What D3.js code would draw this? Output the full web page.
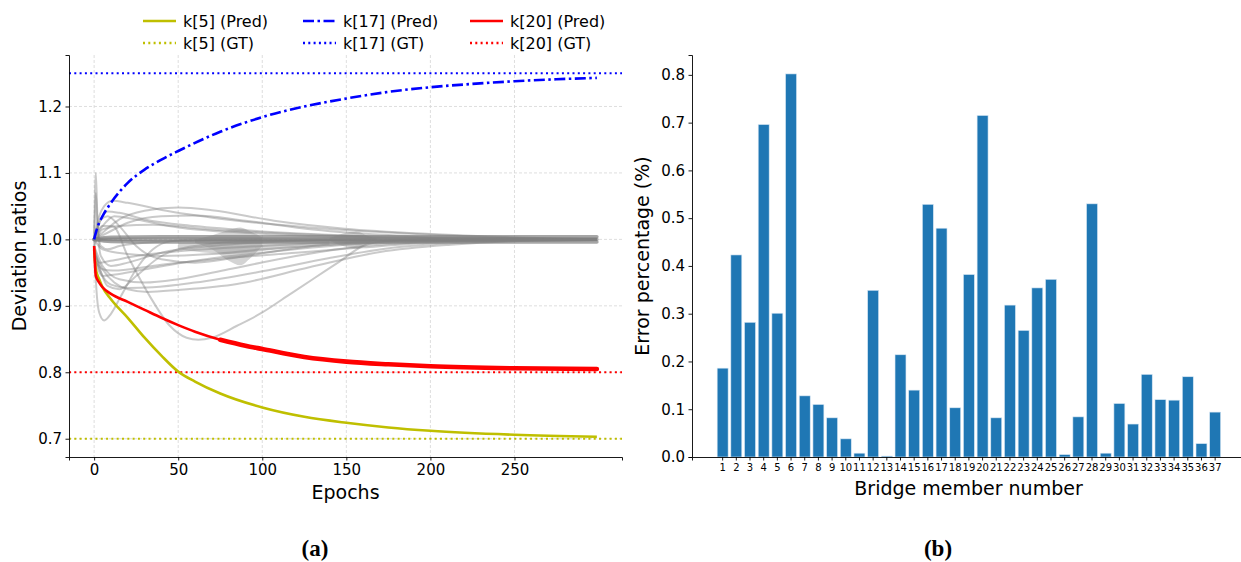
<!DOCTYPE html>
<html><head><meta charset="utf-8">
<script src="https://cdn.jsdelivr.net/npm/d3@7"></script>
<style>
body{margin:0;background:#fff}
text{font-family:"DejaVu Sans",sans-serif;fill:#000}
</style>
</head><body>
<svg id="c" width="1241" height="562"></svg>
<script>
// ---------------- DATA ----------------
// (a) deviation ratios vs epochs
const leftXTicks = [0, 50, 100, 150, 200, 250];
const leftYTicks = [0.7, 0.8, 0.9, 1.0, 1.1, 1.2];
const k5Pred = [[0,0.985],[1,0.955],[3,0.94],[5,0.928],[10,0.91],[20,0.882],[30,0.852],[40,0.825],[50,0.801],[60,0.786],[75,0.768],[100,0.747],[125,0.733],[150,0.724],[175,0.717],[200,0.712],[250,0.706],[299,0.703]];
const k17Pred = [[0,1.0],[1,1.01],[3,1.025],[5,1.035],[10,1.055],[20,1.085],[30,1.105],[40,1.12],[50,1.133],[75,1.162],[100,1.184],[125,1.2],[150,1.212],[175,1.222],[200,1.229],[225,1.234],[250,1.238],[275,1.241],[299,1.243]];
const k20Pred = [[0,0.99],[1,0.945],[3,0.935],[5,0.928],[10,0.918],[20,0.906],[30,0.894],[40,0.882],[50,0.871],[60,0.861],[75,0.849],[90,0.84],[100,0.835],[125,0.823],[150,0.816],[175,0.812],[200,0.809],[250,0.806],[299,0.805]];
const k5GT = 0.7, k17GT = 1.25, k20GT = 0.8;
const grayCurves = [
  [[0,1.0],[1,1.10],[2,1.03],[4,0.99],[8,0.985],[15,0.99],[30,0.995],[60,0.998],[100,1.0],[299,1.0]],
  [[0,1.0],[1,1.07],[2,1.02],[4,0.975],[10,0.96],[20,0.965],[40,0.98],[70,0.99],[110,0.997],[160,1.0],[299,1.0]],
  [[0,1.0],[1,0.94],[3,0.89],[6,0.878],[10,0.888],[16,0.915],[25,0.955],[35,0.985],[45,0.997],[60,1.0],[299,1.0]],
  [[0,1.0],[5,1.02],[11,1.02],[20,0.975],[33,0.915],[45,0.87],[55,0.852],[62,0.849],[70,0.852],[85,0.87],[100,0.89],[115,0.915],[130,0.94],[145,0.965],[160,0.99],[175,0.998],[200,1.0],[299,1.0]],
  [[0,1.0],[3,1.035],[6,1.05],[11,1.058],[20,1.055],[43,1.043],[85,1.028],[128,1.018],[170,1.011],[230,1.004],[299,1.001]],
  [[0,1.0],[5,1.01],[15,1.03],[30,1.043],[50,1.048],[70,1.044],[107,1.028],[149,1.016],[200,1.008],[250,1.003],[299,1.001]],
  [[0,1.0],[4,1.03],[8,1.042],[15,1.04],[30,1.03],[60,1.02],[100,1.012],[150,1.006],[200,1.003],[299,1.0]],
  [[0,1.0],[5,1.02],[12,1.035],[25,1.03],[50,1.018],[90,1.01],[140,1.004],[200,1.001],[299,1.0]],
  [[0,1.0],[8,1.01],[20,1.025],[40,1.035],[60,1.036],[90,1.028],[130,1.015],[180,1.006],[240,1.002],[299,1.0]],
  [[0,0.99],[5,1.015],[15,1.02],[35,1.022],[70,1.015],[120,1.008],[180,1.003],[299,1.0]],
  [[0,0.98],[5,0.955],[12,0.935],[20,0.925],[32,0.921],[50,0.924],[85,0.933],[128,0.958],[170,0.981],[212,0.992],[260,0.998],[299,0.999]],
  [[0,0.98],[4,0.95],[10,0.932],[20,0.927],[35,0.928],[60,0.935],[100,0.952],[140,0.972],[180,0.988],[230,0.996],[299,0.999]],
  [[0,0.99],[5,0.96],[15,0.94],[30,0.935],[50,0.94],[80,0.955],[120,0.975],[160,0.99],[210,0.997],[299,1.0]],
  [[0,0.97],[5,0.955],[11,0.953],[40,0.962],[80,0.972],[120,0.98],[160,0.988],[200,0.995],[250,0.998],[299,0.999]],
  [[0,0.975],[5,0.945],[15,0.948],[30,0.955],[60,0.968],[100,0.98],[150,0.992],[200,0.997],[299,1.0]],
  [[0,0.985],[3,0.965],[10,0.968],[25,0.975],[50,0.982],[100,0.99],[160,0.997],[299,1.0]],
  [[0,1.0],[5,0.985],[20,0.978],[40,0.975],[70,0.978],[100,0.985],[150,0.993],[200,0.998],[299,1.0]],
  [[0,1.0],[4,1.03],[8,1.035],[15,1.02],[25,0.99],[40,0.97],[60,0.965],[90,0.975],[130,0.99],[180,0.998],[299,1.0]],
  [[0,0.99],[3,0.96],[8,0.93],[15,0.925],[25,0.945],[40,0.975],[60,0.99],[100,0.998],[299,1.0]]
];
const grayBandCurves = [
  [[0,1.0],[10,1.003],[40,1.004],[100,1.004],[200,1.004],[299,1.004]],
  [[0,1.0],[5,1.0],[299,1.0]],
  [[0,1.0],[10,0.997],[40,0.996],[100,0.996],[200,0.996],[299,0.996]]
];
// oscillation envelopes: [epoch, low, high]
const grayOscillations = [
  [[60,0.995,1.0],[70,0.985,1.006],[80,0.968,1.014],[87,0.961,1.018],[93,0.972,1.012],[100,0.99,1.003]],
  [[140,0.998,1.002],[148,0.99,1.009],[156,0.986,1.012],[163,0.994,1.005],[168,0.999,1.001]],
  [[50,0.985,0.995],[80,0.978,0.997],[110,0.985,0.999],[140,0.992,1.0]]
];
const legendLabels = ["k[5] (Pred)", "k[5] (GT)", "k[17] (Pred)", "k[17] (GT)", "k[20] (Pred)", "k[20] (GT)"];

// (b) error percentage per bridge member
const memberNumbers = ["1","2","3","4","5","6","7","8","9","10","11","12","13","14","15","16","17","18","19","20","21","22","23","24","25","26","27","28","29","30","31","32","33","34","35","36","37"];
const errorPercent = [0.186,0.423,0.282,0.696,0.301,0.802,0.128,0.110,0.082,0.038,0.008,0.349,0.002,0.214,0.140,0.529,0.479,0.103,0.382,0.715,0.082,0.318,0.265,0.354,0.372,0.005,0.084,0.530,0.008,0.112,0.069,0.173,0.120,0.119,0.168,0.028,0.094];
const rightYTicks = [0.0,0.1,0.2,0.3,0.4,0.5,0.6,0.7,0.8];

// ---------------- DRAW ----------------
const svg = d3.select("#c");
const fmt1 = d3.format(".1f");

// ---- (a) ----
const xL = d3.scaleLinear().domain([-14.95, 313.95]).range([69, 622]);
const yL = d3.scaleLinear().domain([0.6725, 1.2775]).range([457, 55]);
const gA = svg.append("g");

// grid
gA.append("g").selectAll("line").data(leftXTicks).join("line")
  .attr("x1", d => xL(d)).attr("x2", d => xL(d)).attr("y1", 55).attr("y2", 457)
  .attr("stroke", "#d6d6d6").attr("stroke-width", 0.8).attr("stroke-dasharray", "3,2");
gA.append("g").selectAll("line").data(leftYTicks).join("line")
  .attr("y1", d => yL(d)).attr("y2", d => yL(d)).attr("x1", 69).attr("x2", 622)
  .attr("stroke", "#d6d6d6").attr("stroke-width", 0.8).attr("stroke-dasharray", "3,2");

const line = d3.line().x(d => xL(d[0])).y(d => yL(d[1])).curve(d3.curveMonotoneX);
const area = d3.area().x(d => xL(d[0])).y0(d => yL(d[1])).y1(d => yL(d[2])).curve(d3.curveMonotoneX);

gA.append("g").selectAll("path").data(grayOscillations).join("path")
  .attr("d", area).attr("fill", "#a0a0a0").attr("fill-opacity", 0.45);
gA.append("g").selectAll("path").data(grayCurves).join("path")
  .attr("d", line).attr("fill", "none").attr("stroke", "#808080")
  .attr("stroke-opacity", 0.42).attr("stroke-width", 2);
gA.append("g").selectAll("path").data(grayBandCurves).join("path")
  .attr("d", line).attr("fill", "none").attr("stroke", "#808080")
  .attr("stroke-opacity", 0.7).attr("stroke-width", 3.6).attr("stroke-linecap", "round");

// GT lines
const xs = xL.domain();
const gts = [[k5GT, "#bfbf00"], [k17GT, "#0000ff"], [k20GT, "#ff0000"]];
gA.append("g").selectAll("line").data(gts).join("line")
  .attr("x1", xL(xs[0])).attr("x2", xL(xs[1]))
  .attr("y1", d => yL(d[0])).attr("y2", d => yL(d[0]))
  .attr("stroke", d => d[1]).attr("stroke-width", 2).attr("stroke-dasharray", "2,3.3");

// Pred lines
gA.append("path").attr("d", line(k5Pred)).attr("fill", "none").attr("stroke", "#bfbf00").attr("stroke-width", 2.6);
gA.append("path").attr("d", line(k20Pred)).attr("fill", "none").attr("stroke", "#ff0000").attr("stroke-width", 2.6);
gA.append("path").attr("d", line(k20Pred.filter(p => p[0] >= 75))).attr("fill", "none").attr("stroke", "#ff0000")
  .attr("stroke-width", 4.6).attr("stroke-linecap", "round");
gA.append("path").attr("d", line(k17Pred)).attr("fill", "none").attr("stroke", "#0000ff").attr("stroke-width", 2.6)
  .attr("stroke-dasharray", "11,3.5,2.5,3.5");

// axes
function styleAxis(g, fs) {
  g.select(".domain").attr("stroke", "#000").attr("stroke-width", 0.9);
  g.selectAll(".tick line").attr("stroke", "#000").attr("stroke-width", 0.9);
  g.selectAll(".tick text").attr("font-size", fs).attr("font-family", "DejaVu Sans").attr("fill", "#000");
}
const axL = gA.append("g").attr("transform", "translate(69,0)")
  .call(d3.axisLeft(yL).tickValues(leftYTicks).tickFormat(fmt1).tickSizeOuter(0).tickSize(3.5).tickPadding(3.5));
styleAxis(axL, 15);
const axB = gA.append("g").attr("transform", "translate(0,457)")
  .call(d3.axisBottom(xL).tickValues(leftXTicks).tickFormat(d3.format("d")).tickSizeOuter(0).tickSize(3.5).tickPadding(3.5));
styleAxis(axB, 15);

gA.append("text").attr("x", 345.5).attr("y", 499).attr("text-anchor", "middle")
  .attr("font-size", 19).text("Epochs");
gA.append("text").attr("transform", "translate(26,256) rotate(-90)").attr("text-anchor", "middle")
  .attr("font-size", 19).text("Deviation ratios");

// legend (3 columns x 2 rows)
const legendStyles = [
  {c:"#bfbf00", dash:null}, {c:"#bfbf00", dash:"2,3.3"},
  {c:"#0000ff", dash:"11,3.5,2.5,3.5"}, {c:"#0000ff", dash:"2,3.3"},
  {c:"#ff0000", dash:null}, {c:"#ff0000", dash:"2,3.3"}
];
const colX = [143, 303, 470];
const rowY = [21, 43];
const lg = gA.append("g").selectAll("g").data(legendLabels).join("g")
  .attr("transform", (d, i) => `translate(${colX[Math.floor(i / 2)]},${rowY[i % 2]})`);
lg.append("line").attr("x1", 0).attr("x2", 33).attr("y1", 0).attr("y2", 0)
  .attr("stroke", (d, i) => legendStyles[i].c).attr("stroke-width", 2.4)
  .attr("stroke-dasharray", (d, i) => legendStyles[i].dash);
lg.append("text").attr("x", 40).attr("y", 0).attr("dy", "0.35em").attr("font-size", 16).text(d => d);

// ---- (b) ----
const xR = d3.scaleBand().domain(memberNumbers).range([692, 1245.8]).paddingInner(0.2).paddingOuter(1.84);
const yR = d3.scaleLinear().domain([0, 0.8416]).range([457, 55]);
const gB = svg.append("g");
gB.append("g").selectAll("rect").data(errorPercent).join("rect")
  .attr("x", (d, i) => xR(memberNumbers[i])).attr("width", xR.bandwidth())
  .attr("y", d => yR(d)).attr("height", d => yR(0) - yR(d))
  .attr("fill", "#1f77b4").attr("stroke", "#d6e6f3").attr("stroke-width", 0.6);
const axRL = gB.append("g").attr("transform", "translate(692,0)")
  .call(d3.axisLeft(yR).tickValues(rightYTicks).tickFormat(fmt1).tickSizeOuter(0).tickSize(3.5).tickPadding(3.5));
styleAxis(axRL, 15);
const axRB = gB.append("g").attr("transform", "translate(0,457)")
  .call(d3.axisBottom(xR).tickSizeOuter(0).tickSize(3.5).tickPadding(3.5));
styleAxis(axRB, 10);
gB.append("text").attr("x", 968.5).attr("y", 495).attr("text-anchor", "middle")
  .attr("font-size", 19).text("Bridge member number");
gB.append("text").attr("transform", "translate(649,256) rotate(-90)").attr("text-anchor", "middle")
  .attr("font-size", 19).text("Error percentage (%)");

// captions
svg.append("text").attr("x", 315).attr("y", 556).attr("text-anchor", "middle")
  .style("font-family", "Liberation Serif")
  .attr("font-weight", "bold").attr("font-size", 23).text("(a)");
svg.append("text").attr("x", 938).attr("y", 556).attr("text-anchor", "middle")
  .style("font-family", "Liberation Serif")
  .attr("font-weight", "bold").attr("font-size", 23).text("(b)");
</script>
</body></html>
